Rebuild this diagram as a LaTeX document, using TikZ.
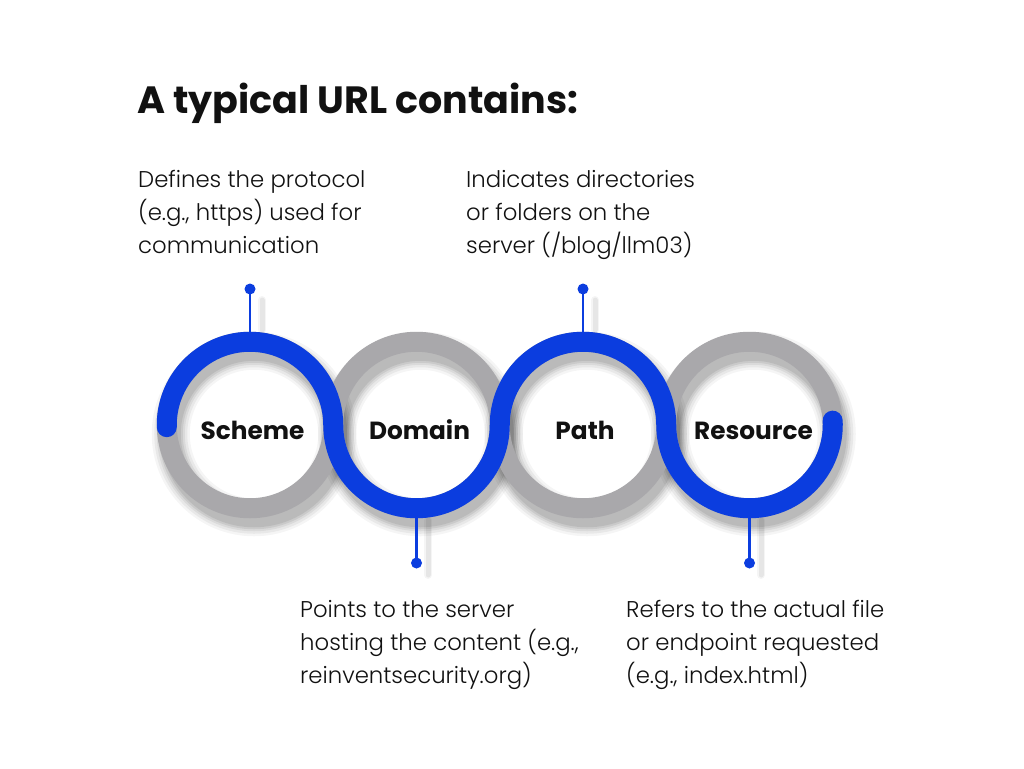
\documentclass[tikz,border=0pt]{standalone}
\usepackage{fontspec}
\setmainfont{Poppins}
\newfontfamily\lightfont{Poppins Light}
\definecolor{urlblue}{HTML}{0B3DDF}
\definecolor{ringgray}{HTML}{A9A8AB}
\definecolor{ink}{HTML}{111111}
\begin{document}
\begin{tikzpicture}[x=1pt,y=-1pt,
  ringnode/.style={circle, draw=ringgray, line width=20pt, minimum size=166.5pt, inner sep=0pt},
  wave/.style={draw=urlblue, line width=20pt, line cap=round},
  pin/.style={draw=urlblue, line width=2.6pt},
  pindot/.style={fill=urlblue, circle, inner sep=0pt, minimum size=11pt},
  desc/.style={anchor=base west, inner sep=0pt, font=\lightfont\fontsize{22.8}{33}\selectfont, text=ink},
  lbl/.style={anchor=base, inner sep=0pt, font=\fontsize{24.8}{28}\selectfont\bfseries, text=ink},
  shadowring/.style={draw=black, line width=#1},
]
\useasboundingbox (0,0) rectangle (1024,768);
\fill[white] (0,0) rectangle (1024,768);

% soft shadows
\foreach \cx in {250,416.5,583,749.5}{
  \foreach \w/\o in {38pt/0.04, 33pt/0.05, 28pt/0.06, 24pt/0.07, 20pt/0.08}{
    \draw[shadowring=\w, opacity=\o] (\cx+4,434) circle[radius=83.25pt];
  }
}
% pin shadows
\foreach \px/\py in {262/300, 595/300}{
  \foreach \w/\o in {8pt/0.04, 5pt/0.06}{
    \draw[black, opacity=\o, line width=\w, line cap=round] (\px,\py) -- (\px,\py+30);
  }
}
\foreach \px/\py in {428/520, 761/520}{
  \foreach \w/\o in {8pt/0.04, 5pt/0.06}{
    \draw[black, opacity=\o, line width=\w, line cap=round] (\px,\py) -- (\px,\py+55);
  }
}

% rings
\node[ringnode] (scheme) at (250,425) {};
\node[ringnode] (domain) at (416.5,425) {};
\node[ringnode] (path) at (583,425) {};
\node[ringnode] (resource) at (749.5,425) {};

% pins
\node[pindot] (p1) at (250,289) {};
\node[pindot] (p2) at (416.5,563) {};
\node[pindot] (p3) at (583,289) {};
\node[pindot] (p4) at (749.5,563) {};
\draw[pin] (p1.center) -- (scheme.center |- 0,345);
\draw[pin] (p2.center) -- (domain.center |- 0,505);
\draw[pin] (p3.center) -- (path.center |- 0,345);
\draw[pin] (p4.center) -- (resource.center |- 0,505);

% blue wave
\draw[wave] ([shift={(181.5:83.25pt)}]scheme.center)
  arc[start angle=181.5, end angle=0, radius=83.25pt]
  arc[start angle=180, end angle=360, radius=83.25pt]
  arc[start angle=180, end angle=0, radius=83.25pt]
  arc[start angle=180, end angle=363, radius=83.25pt];

% ring labels
\node[lbl] (lscheme) at (252.5,439) {Scheme};
\node[lbl] (ldomain) at (419.5,439) {Domain};
\node[lbl] (lpath) at (585,439) {Path};
\node[lbl] (lresource) at (753.5,439) {Resource};

% title
\node[anchor=base west, inner sep=0pt, font=\fontsize{38}{46}\selectfont\bfseries, text=ink] (title) at (137,113) {A typical URL contains:};

% descriptions
\node[desc] (s1) at (138,187) {Defines the protocol};
\node[desc] (s2) at (138,220) {(e.g., https) used for};
\node[desc] (s3) at (138,253) {communication};

\node[desc] (t1) at (466,187) {Indicates directories};
\node[desc] (t2) at (466,220) {or folders on the};
\node[desc] (t3) at (466,253) {server (/blog/llm03)};

\node[desc] (d1) at (300,617) {Points to the server};
\node[desc] (d2) at (300,650) {hosting the content (e.g.,};
\node[desc] (d3) at (300,683) {reinventsecurity.org)};

\node[desc] (r1) at (626,617) {Refers to the actual file};
\node[desc] (r2) at (626,650) {or endpoint requested};
\node[desc] (r3) at (626,683) {(e.g., index.html)};
\end{tikzpicture}
\end{document}
